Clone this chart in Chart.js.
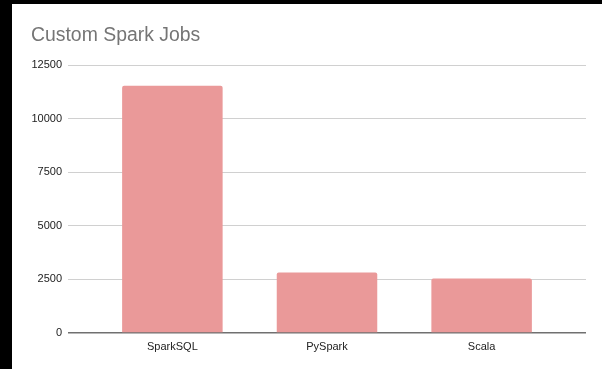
<!DOCTYPE html>
<html>
<head>
<meta charset="utf-8">
<script src="https://cdn.jsdelivr.net/npm/chart.js@4"></script>
<style>
  html, body { margin: 0; padding: 0; background: #000; width: 602px; height: 369px; overflow: hidden; }
  #wrap { position: absolute; left: 12px; top: 4px; width: 590px; height: 365px; background: #fff; }
  canvas { display: block; }
</style>
</head>
<body>
<div id="wrap"><canvas id="c" width="590" height="365"></canvas></div>
<script>
const titleText = "Custom Spark Jobs";
const categories = ["SparkSQL", "PySpark", "Scala"];
const jobCounts = [11550, 2830, 2550];
const yTicks = [0, 2500, 5000, 7500, 10000, 12500];

const points = categories.map((c, i) => ({ x: i, y: jobCounts[i] }));

new Chart(document.getElementById('c'), {
  type: 'bar',
  data: {
    datasets: [{
      label: 'Jobs',
      data: points,
      backgroundColor: '#ea9999',
      borderWidth: 0,
      borderRadius: { topLeft: 2, topRight: 2 },
      borderSkipped: 'bottom',
      categoryPercentage: 1,
      barPercentage: 0.65
    }]
  },
  options: {
    responsive: false,
    animation: false,
    devicePixelRatio: 1,
    layout: { padding: { left: 19, right: 16, top: 8, bottom: 0 } },
    plugins: {
      legend: { display: false },
      tooltip: { enabled: false },
      title: {
        display: true,
        text: titleText,
        align: 'start',
        color: '#757575',
        font: { family: 'Liberation Sans, Arial, sans-serif', size: 19.4, weight: 'normal' },
        padding: { top: 12, bottom: 18 }
      }
    },
    scales: {
      x: {
        type: 'linear',
        offset: false,
        min: -0.675,
        max: 2.675,
        afterBuildTicks: (s) => { s.ticks = categories.map((_, i) => ({ value: i })); },
        afterFit: (s) => { s.height = 36; },
        grid: { display: false, drawTicks: false, offset: false },
        border: { display: false },
        ticks: {
          color: '#222',
          font: { family: 'Liberation Sans, Arial, sans-serif', size: 11 },
          padding: 7,
          maxRotation: 0,
          autoSkip: false,
          callback: (v) => categories[v] ?? ''
        }
      },
      y: {
        min: yTicks[0],
        max: yTicks[yTicks.length - 1],
        afterBuildTicks: (s) => { s.ticks = yTicks.map(v => ({ value: v })); },
        afterFit: (s) => { s.width = 37; },
        grid: {
          drawTicks: false,
          color: (ctx) => ctx.tick && ctx.tick.value === 0 ? '#707070' : '#d0d0d0',
          lineWidth: (ctx) => ctx.tick && ctx.tick.value === 0 ? 1.5 : 1
        },
        border: { display: false },
        ticks: {
          color: '#222',
          font: { family: 'Liberation Sans, Arial, sans-serif', size: 11 },
          padding: 6,
          callback: (v) => String(v)
        }
      }
    }
  }
});
</script>
</body>
</html>
